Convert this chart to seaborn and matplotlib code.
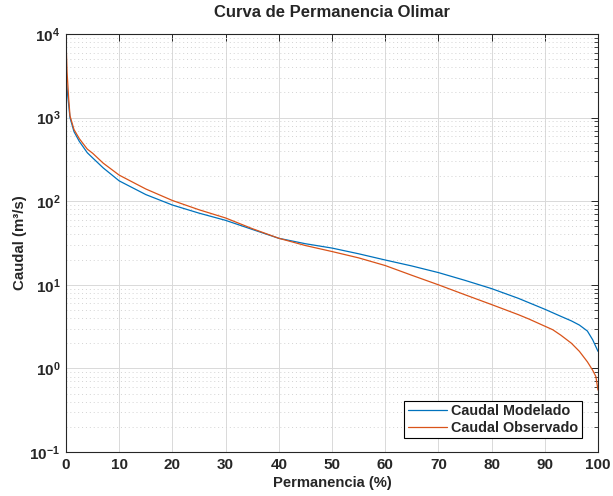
import numpy as np
import pandas as pd
import matplotlib
matplotlib.use("Agg")
import matplotlib.pyplot as plt
import seaborn as sns
from matplotlib.ticker import LogLocator, NullFormatter, NullLocator

# ---- data ----
perm_mod = [0, 0.3, 0.75, 1.5, 2.5, 4, 5, 7, 10, 15, 20, 25, 30, 35, 40, 45, 50,
            55, 60, 65, 70, 75, 80, 85, 90, 93, 95, 96.5, 98, 99, 100]
caudal_mod = [3000, 1900, 1000, 680, 520, 380, 330, 250, 175, 120, 90, 72, 59, 46,
              36, 31, 27.5, 23.5, 19.8, 16.8, 14, 11.3, 9.0, 6.9, 5.1, 4.2, 3.7,
              3.3, 2.8, 2.2, 1.6]

perm_obs = [0, 0.2, 0.5, 0.75, 1.5, 2.5, 4, 5, 7, 10, 15, 20, 25, 30, 35, 40, 45,
            50, 55, 60, 65, 70, 75, 80, 85, 87, 90, 91.5, 93, 95, 96.5, 98, 99, 99.6, 100]
caudal_obs = [8500, 3500, 1700, 1050, 720, 560, 420, 375, 285, 205, 140, 102, 79,
              63, 47, 36, 29.5, 25, 21, 17, 13, 10, 7.6, 5.8, 4.4, 3.9, 3.2, 2.9,
              2.5, 2.0, 1.6, 1.2, 0.95, 0.8, 0.55]

series_names = ["Caudal Modelado", "Caudal Observado"]
x_ticks = [0, 10, 20, 30, 40, 50, 60, 70, 80, 90, 100]

df = pd.concat([
    pd.DataFrame({"Permanencia": perm_mod, "Caudal": caudal_mod, "Serie": series_names[0]}),
    pd.DataFrame({"Permanencia": perm_obs, "Caudal": caudal_obs, "Serie": series_names[1]}),
], ignore_index=True)

sns.set_style("white")
plt.rcParams["font.family"] = ["Liberation Sans", "DejaVu Sans"]
plt.rcParams["font.weight"] = "bold"
plt.rcParams["mathtext.default"] = "regular"
plt.rcParams["axes.labelweight"] = "bold"
plt.rcParams["axes.unicode_minus"] = False

fig = plt.figure(figsize=(6.13, 4.96), dpi=100)
ax = fig.add_axes([66 / 613, 1 - 452 / 496, (598 - 66) / 613, (452 - 34) / 496])

sns.lineplot(data=df, x="Permanencia", y="Caudal", hue="Serie",
             palette=["#0072BD", "#D95319"], linewidth=0.9, ax=ax,
             estimator=None, sort=False)

ax.set_yscale("log")
ax.set_xlim(0, 100)
ax.set_ylim(0.1, 1e4)
ax.set_xticks(x_ticks)
ax.xaxis.set_minor_locator(NullLocator())
ax.yaxis.set_major_locator(LogLocator(base=10, numticks=10))
ax.yaxis.set_minor_locator(LogLocator(base=10, subs=np.arange(2, 10), numticks=20))
ax.yaxis.set_minor_formatter(NullFormatter())

ax.grid(True, which="major", color="#d9d9d9", linewidth=0.7, linestyle="-")
ax.grid(True, which="minor", axis="y", color="#d3d3d3", linewidth=0.7, linestyle=(0, (1, 3)))
ax.set_axisbelow(True)

for s in ax.spines.values():
    s.set_color("#262626")
    s.set_linewidth(0.8)
ax.tick_params(which="both", direction="in", top=True, right=True, colors="#262626",
               labelsize=11)
ax.tick_params(which="major", length=5, width=0.7, pad=4)
ax.tick_params(which="minor", length=3, width=0.6)
for lbl in ax.get_xticklabels() + ax.get_yticklabels():
    lbl.set_fontweight("bold")

ax.set_xlabel("Permanencia (%)", fontsize=10.6, fontweight="bold", labelpad=3)
ax.set_ylabel("Caudal (m³/s)", fontsize=10.8, fontweight="bold", labelpad=2)
ax.set_title("Curva de Permanencia Olimar", fontsize=12, fontweight="bold", pad=12)

leg = ax.legend(loc="lower right", bbox_to_anchor=(0.97, 0.033), frameon=True,
                fancybox=False, edgecolor="black", framealpha=1, fontsize=10.4,
                handlelength=2.7, borderpad=0.25, labelspacing=0.15, handletextpad=0.3,
                borderaxespad=0)
leg.get_frame().set_linewidth(0.8)
for t in leg.get_texts():
    t.set_fontweight("bold")

fig.savefig("out.png", dpi=100)
